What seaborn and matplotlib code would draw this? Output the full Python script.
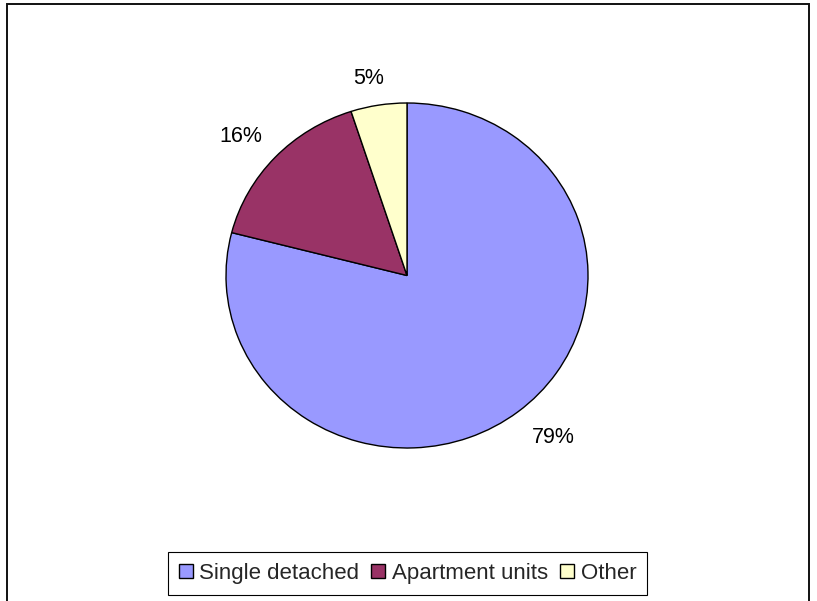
import matplotlib
matplotlib.use("Agg")
import matplotlib.pyplot as plt
from matplotlib.patches import Rectangle
import numpy as np
import seaborn as sns

# ── Data ──────────────────────────────────────────────────────────────────────
categories = ["Single detached", "Apartment units", "Other"]
shares = [79, 16, 5]
colors = ["#9999FF", "#993366", "#FFFFCC"]

# ── Setup ─────────────────────────────────────────────────────────────────────
sns.set_theme(style="white")
plt.rcParams['font.family'] = ['Liberation Sans', 'DejaVu Sans']

W, H = 817, 601
fig = plt.figure(figsize=(W / 100, H / 100), dpi=100)

# pie is slightly wider than tall in the reference (362 x 345 px)
pad = 1.3
rx, ry = 362 / 2, 345 / 2
cx, cy = 407, 275.5
ax = fig.add_axes([(cx - rx * pad) / W, 1 - (cy + ry * pad) / H,
                   2 * rx * pad / W, 2 * ry * pad / H])

wedges, _, pcts = ax.pie(shares, colors=colors, startangle=90, counterclock=False,
                         autopct='%1.0f%%', pctdistance=1.2,
                         wedgeprops=dict(edgecolor='black', linewidth=1.0),
                         textprops=dict(fontsize=15.5, color='black'))

# nudge the outside labels the way Excel places them
for w, t, d, shift in zip(wedges, pcts, [1.24, 1.22, 1.16], [3, 2, 1.5]):
    ang = np.deg2rad((w.theta1 + w.theta2) / 2 + shift)
    t.set_position((d * np.cos(ang), d * np.sin(ang)))

ax.set_aspect('auto')
ax.set_xlim(-pad, pad)
ax.set_ylim(-pad, pad)
ax.axis('off')

# legend along the bottom
leg = fig.legend(wedges, categories, loc='center', ncol=3,
                 bbox_to_anchor=(407.5 / W, 1 - 573.5 / H),
                 fontsize=16, frameon=True, fancybox=False, framealpha=1,
                 edgecolor='black', handlelength=0.62, handleheight=0.62,
                 handletextpad=0.3, columnspacing=0.55, borderpad=0.5)
leg.get_frame().set_linewidth(0.8)

# outer chart border
fig.patches.append(Rectangle((7 / W, -0.02), (809 - 7) / W, 1.02 - 4 / H,
                             transform=fig.transFigure, fill=False,
                             edgecolor='#111111', linewidth=1.4))

plt.savefig('out.png', dpi=100, facecolor='white')
plt.close()
